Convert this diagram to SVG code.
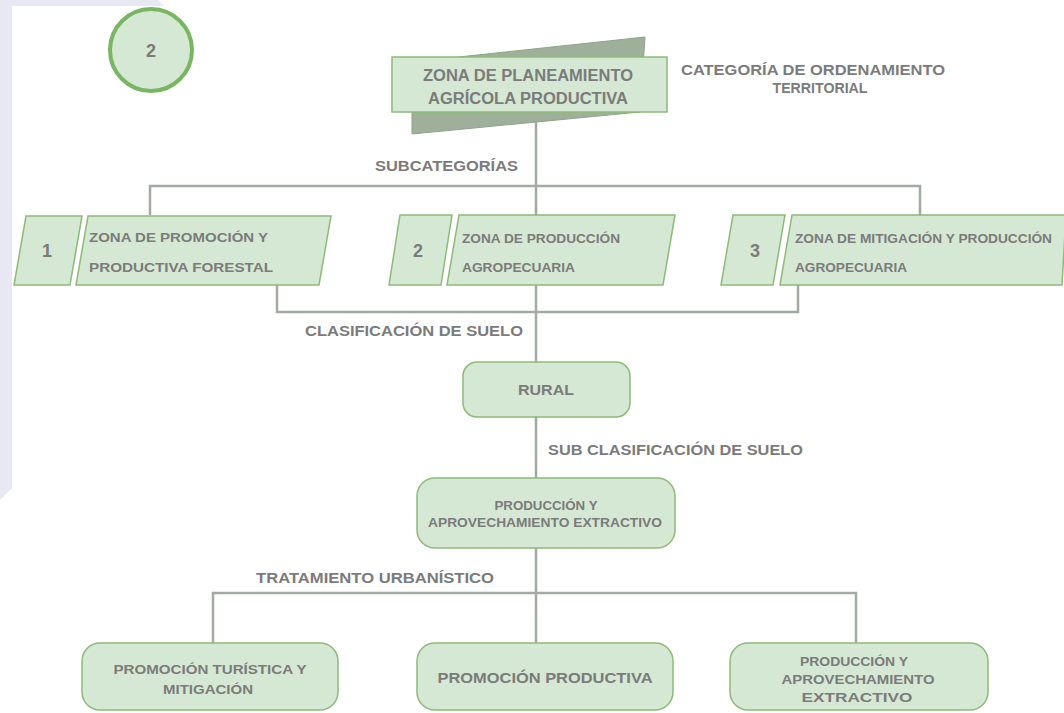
<svg xmlns="http://www.w3.org/2000/svg" width="1064" height="713" viewBox="0 0 1064 713">
<style>
.t{font-family:"Liberation Sans",Arial,sans-serif;font-weight:bold;fill:#7b7b7b}
.box{fill:#d5e8d4;stroke:#8dbb78;stroke-width:1.5}
.ln{fill:none;stroke:#a3aaa3;stroke-width:2.5}
</style>
<rect width="1064" height="713" fill="#ffffff"/>
<polygon points="0,0 158,0 164,6 12,6 12,488 0,500" fill="#e8e8f5"/>
<g id="badge">
<circle cx="151" cy="50" r="41" fill="#d5e8d4" stroke="#79b563" stroke-width="4"/>
<text class="t" x="151" y="57" font-size="18" text-anchor="middle">2</text>
</g>
<g id="connectors">
<path class="ln" d="M536,112 V643"/>
<path class="ln" d="M150,215 V186 H920 V215"/>
<path class="ln" d="M277,285 V312 H798 V285"/>
<path class="ln" d="M213,643 V593 H856 V643"/>
</g>
<g id="top">
<polygon points="412,62 645,37 640,112 412,134" fill="#9fb09a" stroke="#8ea48a" stroke-width="1"/>
<rect x="392" y="57" width="275" height="55" class="box"/>
<text class="t" x="528" y="81" font-size="16" text-anchor="middle" textLength="210" lengthAdjust="spacingAndGlyphs">ZONA DE PLANEAMIENTO</text>
<text class="t" x="528" y="104" font-size="16" text-anchor="middle" textLength="200" lengthAdjust="spacingAndGlyphs">AGRÍCOLA PRODUCTIVA</text>
</g>
<g id="cat-label">
<text class="t" x="681" y="75" font-size="14" textLength="264" lengthAdjust="spacingAndGlyphs">CATEGORÍA DE ORDENAMIENTO</text>
<text class="t" x="820" y="93" font-size="14" text-anchor="middle" textLength="95" lengthAdjust="spacingAndGlyphs">TERRITORIAL</text>
</g>
<g id="subcat-label">
<text class="t" x="375" y="171" font-size="14" textLength="143" lengthAdjust="spacingAndGlyphs">SUBCATEGORÍAS</text>
</g>
<g id="zona1">
<polygon points="26,216 82,216 70,285 14,285" class="box"/>
<text class="t" x="47" y="257" font-size="18" text-anchor="middle">1</text>
<polygon points="88,216 331,216 319,285 76,285" class="box"/>
<text class="t" x="89" y="242" font-size="13" textLength="179" lengthAdjust="spacingAndGlyphs">ZONA DE PROMOCIÓN Y</text>
<text class="t" x="89" y="272" font-size="13" textLength="184" lengthAdjust="spacingAndGlyphs">PRODUCTIVA FORESTAL</text>
</g>
<g id="zona2">
<polygon points="400,215 452,215 441,285 389,285" class="box"/>
<text class="t" x="418" y="257" font-size="18" text-anchor="middle">2</text>
<polygon points="459,215 675,215 663,285 447,285" class="box"/>
<text class="t" x="462" y="243" font-size="12" textLength="158" lengthAdjust="spacingAndGlyphs">ZONA DE PRODUCCIÓN</text>
<text class="t" x="462" y="272" font-size="12" textLength="113" lengthAdjust="spacingAndGlyphs">AGROPECUARIA</text>
</g>
<g id="zona3">
<polygon points="733,215 785,215 773,285 721,285" class="box"/>
<text class="t" x="755" y="257" font-size="18" text-anchor="middle">3</text>
<polygon points="792,215 1066,215 1062,285 780,285" class="box"/>
<text class="t" x="795" y="243" font-size="12" textLength="257" lengthAdjust="spacingAndGlyphs">ZONA DE MITIGACIÓN Y PRODUCCIÓN</text>
<text class="t" x="795" y="272" font-size="12" textLength="112" lengthAdjust="spacingAndGlyphs">AGROPECUARIA</text>
</g>
<g id="clas-label">
<text class="t" x="305" y="336" font-size="14" textLength="218" lengthAdjust="spacingAndGlyphs">CLASIFICACIÓN DE SUELO</text>
</g>
<g id="rural">
<rect x="463" y="362" width="167" height="55" rx="14" class="box"/>
<text class="t" x="546" y="395" font-size="15" text-anchor="middle" textLength="56" lengthAdjust="spacingAndGlyphs">RURAL</text>
</g>
<g id="subclas-label">
<text class="t" x="548" y="455" font-size="14" textLength="255" lengthAdjust="spacingAndGlyphs">SUB CLASIFICACIÓN DE SUELO</text>
</g>
<g id="produccion">
<rect x="417" y="478" width="258" height="70" rx="18" class="box"/>
<text class="t" x="546" y="510" font-size="12" text-anchor="middle" textLength="103" lengthAdjust="spacingAndGlyphs">PRODUCCIÓN Y</text>
<text class="t" x="545" y="527" font-size="12" text-anchor="middle" textLength="234" lengthAdjust="spacingAndGlyphs">APROVECHAMIENTO EXTRACTIVO</text>
</g>
<g id="trat-label">
<text class="t" x="256" y="583" font-size="14" textLength="238" lengthAdjust="spacingAndGlyphs">TRATAMIENTO URBANÍSTICO</text>
</g>
<g id="turistica">
<rect x="82" y="643" width="256" height="67" rx="18" class="box"/>
<text class="t" x="210" y="674" font-size="13" text-anchor="middle" textLength="193" lengthAdjust="spacingAndGlyphs">PROMOCIÓN TURÍSTICA Y</text>
<text class="t" x="208" y="694" font-size="13" text-anchor="middle" textLength="90" lengthAdjust="spacingAndGlyphs">MITIGACIÓN</text>
</g>
<g id="productiva">
<rect x="417" y="643" width="256" height="67" rx="18" class="box"/>
<text class="t" x="545" y="683" font-size="15" text-anchor="middle" textLength="215" lengthAdjust="spacingAndGlyphs">PROMOCIÓN PRODUCTIVA</text>
</g>
<g id="extractivo">
<rect x="730" y="643" width="258" height="67" rx="18" class="box"/>
<text class="t" x="854" y="666" font-size="13" text-anchor="middle" textLength="108" lengthAdjust="spacingAndGlyphs">PRODUCCIÓN Y</text>
<text class="t" x="858" y="684" font-size="13" text-anchor="middle" textLength="153" lengthAdjust="spacingAndGlyphs">APROVECHAMIENTO</text>
<text class="t" x="857" y="702" font-size="13" text-anchor="middle" textLength="111" lengthAdjust="spacingAndGlyphs">EXTRACTIVO</text>
</g>
</svg>
